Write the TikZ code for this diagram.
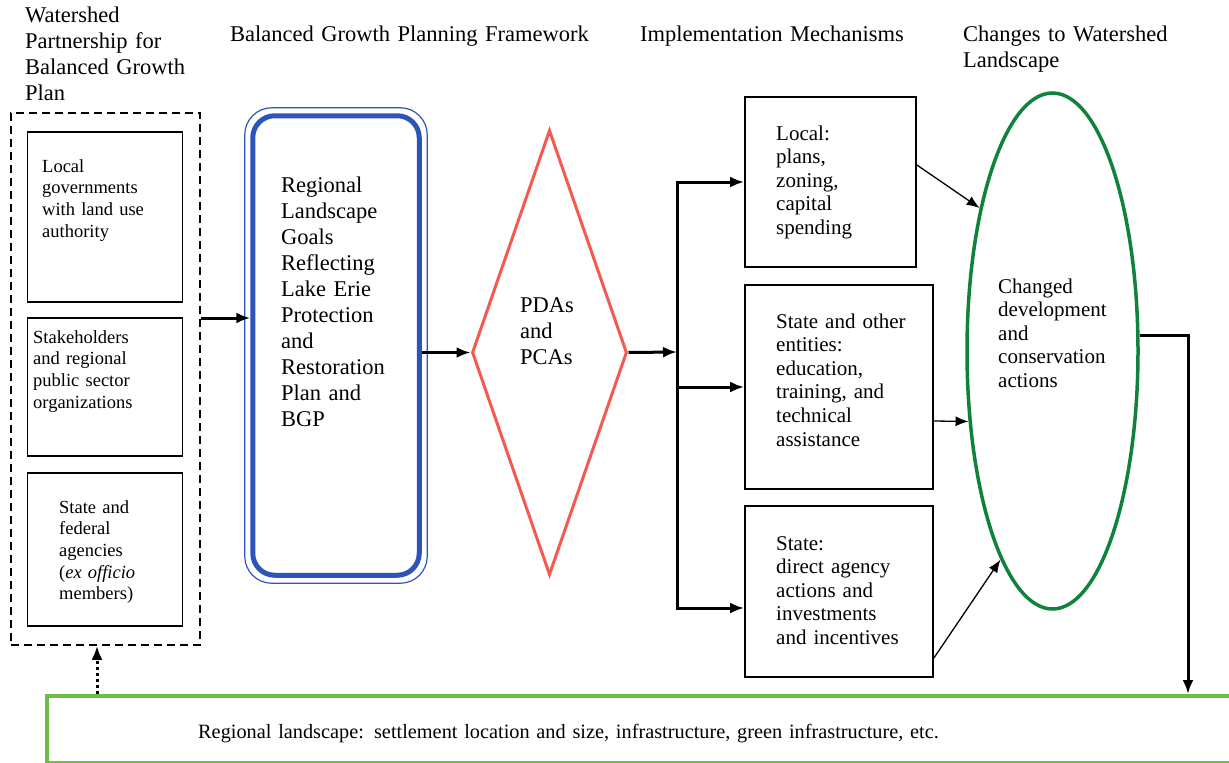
\documentclass[tikz,border=0pt]{standalone}
\usepackage{fontspec}
\setmainfont{Liberation Serif}
\usepackage{xcolor}
\usepackage{tikz}
\usetikzlibrary{shapes.geometric, arrows.meta, calc}

\definecolor{goalblue}{RGB}{45,85,185}
\definecolor{pdared}{RGB}{245,90,80}
\definecolor{actgreen}{RGB}{15,130,60}
\definecolor{landgreen}{RGB}{110,190,70}

\begin{document}
\begin{tikzpicture}[x=1pt, y=-1pt]
    % Styles
    \tikzstyle{txt} = [inner sep=0pt, anchor=base west, align=left, text width=220pt]
    \tikzstyle{headtxt} = [txt, font=\fontsize{22.5}{26}\selectfont]
    \tikzstyle{membertxt} = [txt, font=\fontsize{18.5}{21.7}\selectfont]
    \tikzstyle{bigtxt} = [txt, font=\fontsize{22.5}{26}\selectfont]
    \tikzstyle{mechtxt} = [txt, font=\fontsize{21}{23.6}\selectfont]
    \tikzstyle{member} = [rectangle, draw, line width=1.6pt, minimum width=155pt, inner sep=0pt]
    \tikzstyle{mech} = [rectangle, draw, line width=1.8pt, inner sep=0pt]
    \tikzstyle{line} = [draw, -{Latex[length=14pt,width=11pt]}, line width=3pt]
    \tikzstyle{thinline} = [draw, -{Latex[length=13pt,width=10pt]}, line width=1.3pt]

    \useasboundingbox (0,0) rectangle (1229,763);

    % Headers
    \node [headtxt] (partnerhead) at (25,22) {Watershed\\Partnership for\\Balanced Growth\\Plan};
    \node [headtxt, text width=400pt] (planhead) at (230,41) {Balanced Growth Planning Framework};
    \node [headtxt, text width=300pt] (mechhead) at (640,41) {Implementation Mechanisms};
    \node [headtxt] (changehead) at (963,41) {Changes to Watershed\\Landscape};

    % Partnership
    \node [rectangle, draw, line width=1.6pt, dash pattern=on 8pt off 5pt, minimum width=189pt, minimum height=532pt, inner sep=0pt] (partners) at (105.5,379) {};
    \node [member, minimum height=170pt] (govts) at (105,217) {};
    \node [member, minimum height=138pt] (stakes) at (105,387) {};
    \node [member, minimum height=153pt] (agencies) at (105,549.5) {};
    \node [membertxt] (govtstext) at (42,172) {Local\\governments\\with land use\\authority};
    \node [membertxt] (stakestext) at (33,343) {Stakeholders\\and regional\\public sector\\organizations};
    \node [membertxt] (agenciestext) at (59,513) {State and\\federal\\agencies\\(\textit{ex officio}\\members)};

    % Framework
    \node [rectangle, draw=goalblue, line width=5pt, rounded corners=22pt, minimum width=166.5pt, minimum height=459.5pt, inner sep=0pt] (goals) at (336,345.5) {};
    \draw [goalblue, line width=1.2pt, rounded corners=27pt] ($(goals.north west)+(-5.5,-5.5)$) rectangle ($(goals.south east)+(5.5,5.5)$);
    \node [bigtxt] (goalstext) at (281,192) {Regional\\Landscape\\Goals\\Reflecting\\Lake Erie\\Protection\\and\\Restoration\\Plan and\\BGP};
    \node [diamond, draw=pdared, line width=3pt, minimum width=155pt, minimum height=445pt, inner sep=0pt] (pdas) at (549.5,352.5) {};
    \node [bigtxt] (pdastext) at (520,312) {PDAs\\and\\PCAs};

    % Mechanisms
    \coordinate (split) at (677,352);
    \node [mech, minimum width=171pt, minimum height=170pt] (plans) at (830.5,182) {};
    \node [mech, minimum width=188pt, minimum height=204pt] (outreach) at (839,387) {};
    \node [mech, minimum width=188pt, minimum height=171pt] (direct) at (839,591.5) {};
    \node [mechtxt] (planstext) at (776,140) {Local:\\plans,\\zoning,\\capital\\spending};
    \node [mechtxt] (outreachtext) at (776,328) {State and other\\entities:\\education,\\training, and\\technical\\assistance};
    \node [mechtxt] (directtext) at (776,550) {State:\\direct agency\\actions and\\investments\\and incentives};

    % Changes
    \node [ellipse, draw=actgreen, line width=3.5pt, minimum width=171pt, minimum height=516pt, inner sep=0pt] (changes) at (1052.5,351) {};
    \node [mechtxt] (changestext) at (998,293) {Changed\\development\\and\\conservation\\actions};
    \node [rectangle, draw=landgreen, line width=3.5pt, anchor=north west, minimum width=1220pt, minimum height=67pt, inner sep=0pt] (landscape) at (45,694) {};
    \node [txt, text width=900pt, font=\fontsize{20.3}{23}\selectfont] (landscapetext) at (198,738) {Regional landscape: settlement location and size, infrastructure, green infrastructure, etc.};

    % Paths
    \path [line] ($(partners.east)+(0,-61)$) coordinate (pout) -- (pout -| goals.west);
    \path [line] (goals.east |- pdas) -- (pdas.west);
    \path [line] (pdas.east) -- (split);
    \path [line] (split) |- (plans.west);
    \path [line] (split) |- (outreach.west);
    \path [line] (split) |- ($(direct.west)+(0,16.5)$);
    \path [thinline] ($(plans.east)+(0,-17)$) -- (changes.117);
    \path [thinline] ($(outreach.east)+(0,34)$) -- (changes.220);
    \path [thinline] ($(direct.east)+(0,66.5)$) -- (changes.256);
    \coordinate (dropx) at (1188,0);
    \path [line] (changes.10) -| (dropx |- landscape.north);
    \coordinate (fbx) at (97,0);
    \path [draw, line width=3pt, dash pattern=on 3pt off 3pt, -{Latex[length=14pt,width=11pt]}] (fbx |- landscape.north) -- (fbx |- partners.south);
\end{tikzpicture}
\end{document}
